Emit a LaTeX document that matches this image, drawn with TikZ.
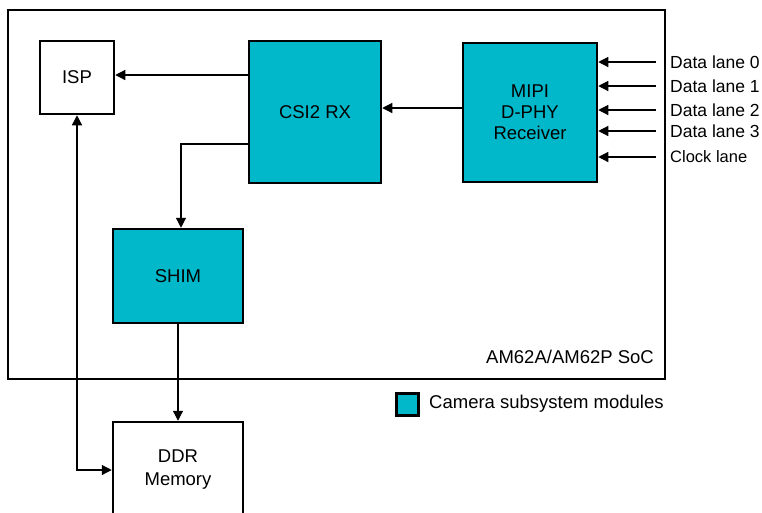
\documentclass[tikz,border=0pt]{standalone}
\usepackage{fontspec}
\setmainfont{Liberation Sans}
\usetikzlibrary{arrows.meta}
\definecolor{teal}{RGB}{0,184,202}
\begin{document}
\begin{tikzpicture}[x=1pt,y=-1pt,
  box/.style={draw,line width=2.5pt,inner sep=0pt,align=center,font=\fontsize{18.5}{21}\selectfont},
  mod/.style={box,fill=teal},
  arr/.style={line width=1.2pt,-{Triangle[length=10pt,width=10pt]}},
  lanelbl/.style={anchor=west,inner sep=0pt,font=\fontsize{17.5}{18}\selectfont}]
\useasboundingbox (0,0) rectangle (762,512);
\clip (0,0) rectangle (762,512);
\fill[white] (0,0) rectangle (762,512);
% SoC
\node[box,minimum width=657pt,minimum height=369pt,line width=2.3pt] (soc) at (336.5,194.5) {};
\node[anchor=east,inner sep=0pt,font=\fontsize{18.5}{21}\selectfont] (soclbl) at (654,357) {AM62A/AM62P SoC};
% blocks
\node[box,minimum width=74pt,minimum height=73pt] (isp) at (77,77.5) {ISP};
\node[mod,minimum width=132pt,minimum height=142pt] (csi) at (315,112) {CSI2 RX};
\node[mod,minimum width=134pt,minimum height=139pt] (mipi) at (530,112.5) {MIPI\\D-PHY\\Receiver};
\node[mod,minimum width=130pt,minimum height=94pt] (shim) at (178,276) {SHIM};
\node[box,minimum width=130pt,minimum height=96pt,font=\fontsize{18.5}{23}\selectfont] (ddr) at (178,470) {DDR\\Memory};
% connectors
\draw[arr] (csi.west |- 0,75) coordinate (c1) -- (isp.east |- c1);
\draw[arr] ([yshift=4.5pt]mipi.west) -- ([yshift=4.5pt]csi.east |- mipi.west);
\draw[arr] ([yshift=-32pt]csi.west) -| ([xshift=3pt]shim.north);
\draw[arr] (shim.south) -- (ddr.north);
\draw[line width=1.2pt,{Triangle[length=10pt,width=10pt]}-{Triangle[length=10pt,width=10pt]}] (isp.south) |- (ddr.west);
% lanes
\coordinate (l0) at (656,62);
\coordinate (l1) at (656,86);
\coordinate (l2) at (656,110);
\coordinate (l3) at (656,131);
\coordinate (l4) at (656,157);
\foreach \i in {0,...,4} \draw[arr] (l\i) -- (mipi.east |- l\i);
\node[lanelbl] (t0) at (670,62) {Data lane 0};
\node[lanelbl] (t1) at (670,86) {Data lane 1};
\node[lanelbl] (t2) at (670,110) {Data lane 2};
\node[lanelbl] (t3) at (670,131) {Data lane 3};
\node[lanelbl,font=\fontsize{16.5}{18}\selectfont] (t4) at (670,157) {Clock lane};
% legend
\node[draw,fill=teal,line width=2.3pt,minimum width=22pt,minimum height=22pt,inner sep=0pt] (legsq) at (407.5,404.5) {};
\node[anchor=west,inner sep=0pt,font=\fontsize{18.5}{21}\selectfont] (legtxt) at (429,404) {Camera subsystem modules};
\end{tikzpicture}
\end{document}
